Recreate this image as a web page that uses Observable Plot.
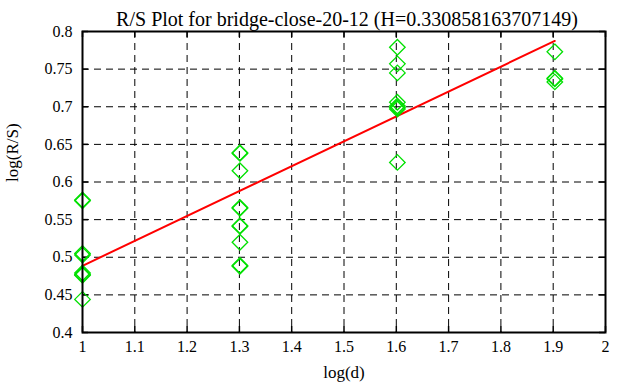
<!DOCTYPE html>
<html><head><meta charset="utf-8">
<script src="https://cdn.jsdelivr.net/npm/d3@7"></script>
<script src="https://cdn.jsdelivr.net/npm/@observablehq/plot@0.6"></script>
<style>body{margin:0;background:#fff} svg{display:block} svg text{font-family:"Liberation Serif", serif !important;}</style>
</head><body><div id="chart"></div>
<script>
const title = "R/S Plot for bridge-close-20-12 (H=0.330858163707149)";
const xLabel = "log(d)";
const yLabel = "log(R/S)";
const logD = [1, 1.30103, 1.60206, 1.90309];
const rsValues = [
  [0.576, 0.575, 0.505, 0.503, 0.479, 0.477, 0.476, 0.444],
  [0.639, 0.638, 0.615, 0.566, 0.565, 0.542, 0.541, 0.520, 0.489, 0.488],
  [0.779, 0.757, 0.745, 0.706, 0.701, 0.699, 0.697, 0.626],
  [0.773, 0.738, 0.737, 0.733]
];
const hurst = 0.330858163707149;
const intercept = 0.1578;
const xTicks = [1, 1.1, 1.2, 1.3, 1.4, 1.5, 1.6, 1.7, 1.8, 1.9, 2];
const yTicks = [0.4, 0.45, 0.5, 0.55, 0.6, 0.65, 0.7, 0.75, 0.8];

const points = logD.flatMap((x, i) => rsValues[i].map(y => ({x, y})));
const fit = [logD[0], logD[logD.length - 1]].map(x => ({x, y: intercept + hurst * x}));

const font = "Liberation Serif";
const chart = Plot.plot({
  width: 617, height: 387,
  marginLeft: 82, marginRight: 12, marginTop: 31, marginBottom: 55,
  style: {fontFamily: font, fontSize: "16px", background: "#fff", color: "#000"},
  x: {domain: [1, 2]},
  y: {domain: [0.4, 0.8]},
  marks: [
    Plot.gridX(xTicks.slice(1, -1), {stroke: "#000", strokeOpacity: 1, strokeWidth: 1, strokeDasharray: "7,5"}),
    Plot.gridY(yTicks.slice(1, -1), {stroke: "#000", strokeOpacity: 1, strokeWidth: 1, strokeDasharray: "7,5"}),
    Plot.gridX(xTicks, {stroke: "#000", strokeOpacity: 1, strokeWidth: 1.5, insetTop: 295}),
    Plot.gridX(xTicks, {stroke: "#000", strokeOpacity: 1, strokeWidth: 1.5, insetBottom: 295}),
    Plot.gridY(yTicks, {stroke: "#000", strokeOpacity: 1, strokeWidth: 1.5, insetRight: 517}),
    Plot.gridY(yTicks, {stroke: "#000", strokeOpacity: 1, strokeWidth: 1.5, insetLeft: 517}),
    Plot.axisX(xTicks, {tickSize: 0, tickPadding: 8, tickFormat: d => String(d), fontSize: 16, fontFamily: font, label: null}),
    Plot.axisY(yTicks, {tickSize: 0, tickPadding: 10, tickFormat: d => String(d), fontSize: 16, fontFamily: font, label: null}),
    Plot.line(fit, {x: "x", y: "y", stroke: "#ff0000", strokeWidth: 2}),
    Plot.dot(points, {x: "x", y: "y", symbol: "diamond2", r: 7, stroke: "#00e000", strokeWidth: 1.3, fill: "none"}),
    Plot.frame({stroke: "#000", strokeWidth: 2}),
    Plot.text([title], {frameAnchor: "top", dx: 3, dy: -20, fontSize: 20, fontFamily: font, text: d => d}),
    Plot.text([xLabel], {frameAnchor: "bottom", dy: 45, fontSize: 17, fontFamily: font, text: d => d}),
    Plot.text([yLabel], {frameAnchor: "left", dx: -70, rotate: -90, fontSize: 17, fontFamily: font, text: d => d})
  ]
});
document.getElementById("chart").appendChild(chart);
</script>
</body></html>
